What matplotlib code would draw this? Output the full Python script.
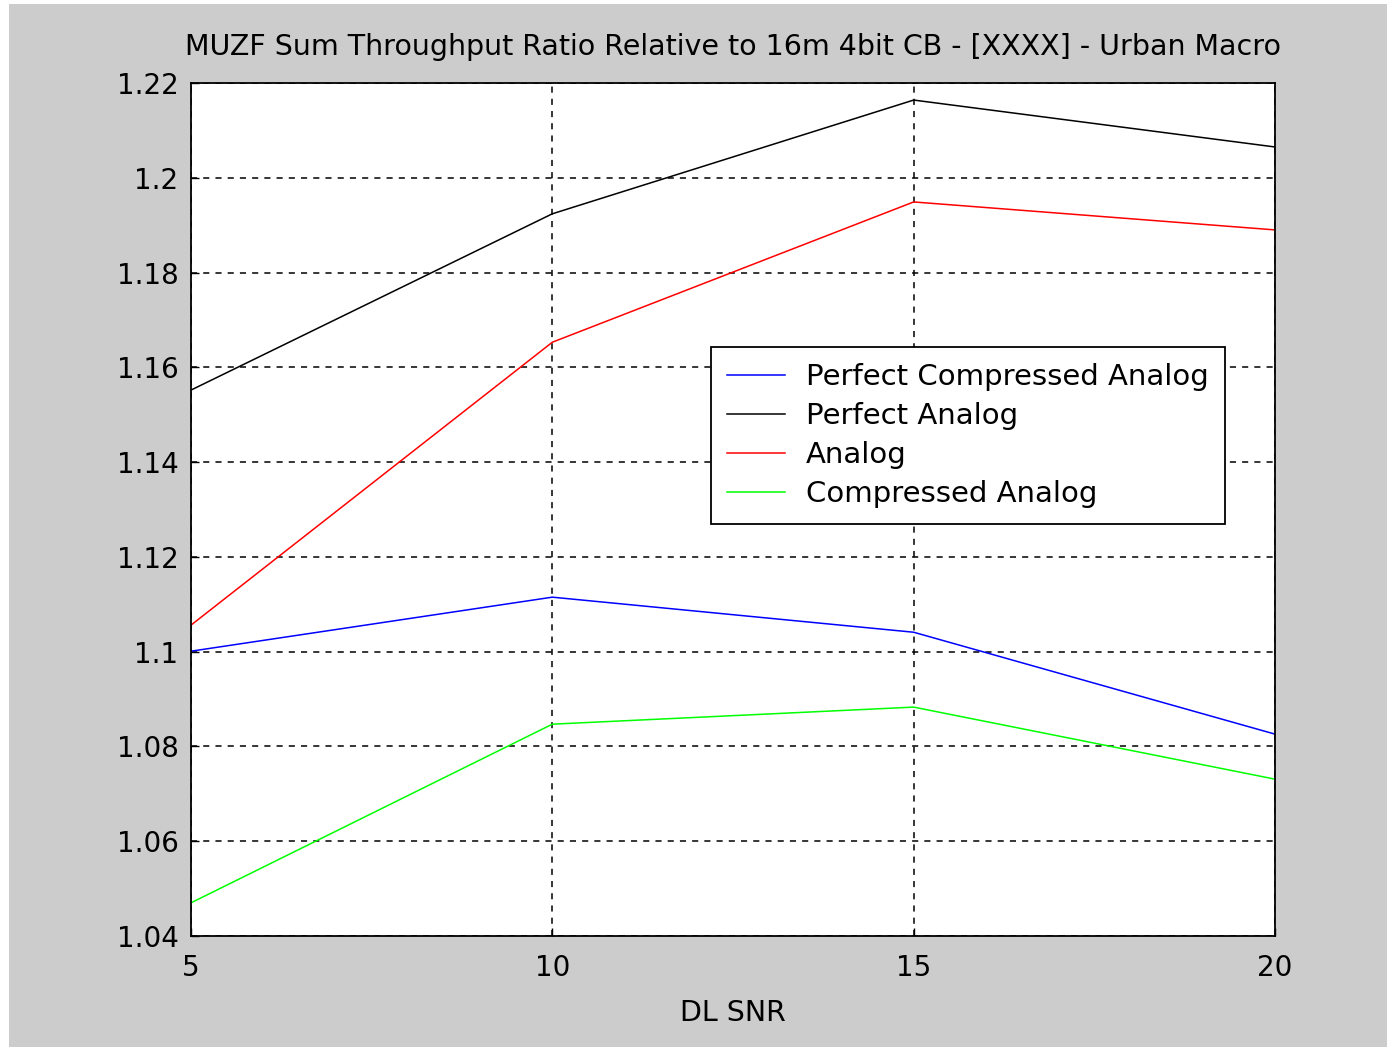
import matplotlib
matplotlib.use("Agg")
import matplotlib.pyplot as plt
from matplotlib.patches import Rectangle

snr = [5, 10, 15, 20]
perfect_compressed = [1.1001, 1.1115, 1.1041, 1.0826]
perfect_analog = [1.1552, 1.1924, 1.2164, 1.2065]
analog = [1.1056, 1.1653, 1.1949, 1.1890]
compressed = [1.0470, 1.0847, 1.0883, 1.0731]
yticks = [1.04, 1.06, 1.08, 1.10, 1.12, 1.14, 1.16, 1.18, 1.20, 1.22]
ytick_labels = ["1.04", "1.06", "1.08", "1.1", "1.12", "1.14", "1.16", "1.18", "1.2", "1.22"]
xticks = [5, 10, 15, 20]

plt.rcParams['font.family'] = ['DejaVu Sans']

W, H = 1387, 1047
fig = plt.figure(figsize=(W / 100, H / 100), dpi=100, facecolor='white')
fig.patches.append(Rectangle((9 / W, 0), 1 - 9 / W, 1 - 4 / H, transform=fig.transFigure,
                             facecolor='#cccccc', edgecolor='none', zorder=-10))

ax = fig.add_axes([191 / W, 1 - 936 / H, (1275 - 191) / W, (936 - 83) / H])
ax.set_facecolor('white')

ax.plot(snr, perfect_compressed, color='#0000ff', lw=1.1, label='Perfect Compressed Analog')
ax.plot(snr, perfect_analog, color='black', lw=1.1, label='Perfect Analog')
ax.plot(snr, analog, color='#ff0000', lw=1.1, label='Analog')
ax.plot(snr, compressed, color='#00ff00', lw=1.1, label='Compressed Analog')

ax.set_xlim(5, 20)
ax.set_ylim(1.04, 1.22)
ax.set_xticks(xticks)
ax.set_xticklabels([str(x) for x in xticks])
ax.set_yticks(yticks)
ax.set_yticklabels(ytick_labels)
ax.tick_params(direction='in', labelsize=20, length=6, width=1)
ax.tick_params(axis='y', pad=9)
ax.tick_params(axis='x', pad=13)
ax.grid(True, color='black', linestyle=(0, (4, 4)), linewidth=1.1)
for s in ax.spines.values():
    s.set_linewidth(1.3)

ax.set_title('MUZF Sum Throughput Ratio Relative to 16m 4bit CB - [XXXX] - Urban Macro',
             fontsize=20.5, pad=20)
ax.set_xlabel('DL SNR', fontsize=20.5, labelpad=12)

leg = ax.legend(loc='upper left', bbox_to_anchor=(0.4797, 0.6905), fontsize=21,
                frameon=True, fancybox=False, edgecolor='black', framealpha=1,
                borderpad=0.55, labelspacing=0.38, handlelength=2.0, handletextpad=0.7,
                borderaxespad=0)
leg.get_frame().set_linewidth(1.3)

fig.savefig('out.png', dpi=100, facecolor=fig.get_facecolor())
